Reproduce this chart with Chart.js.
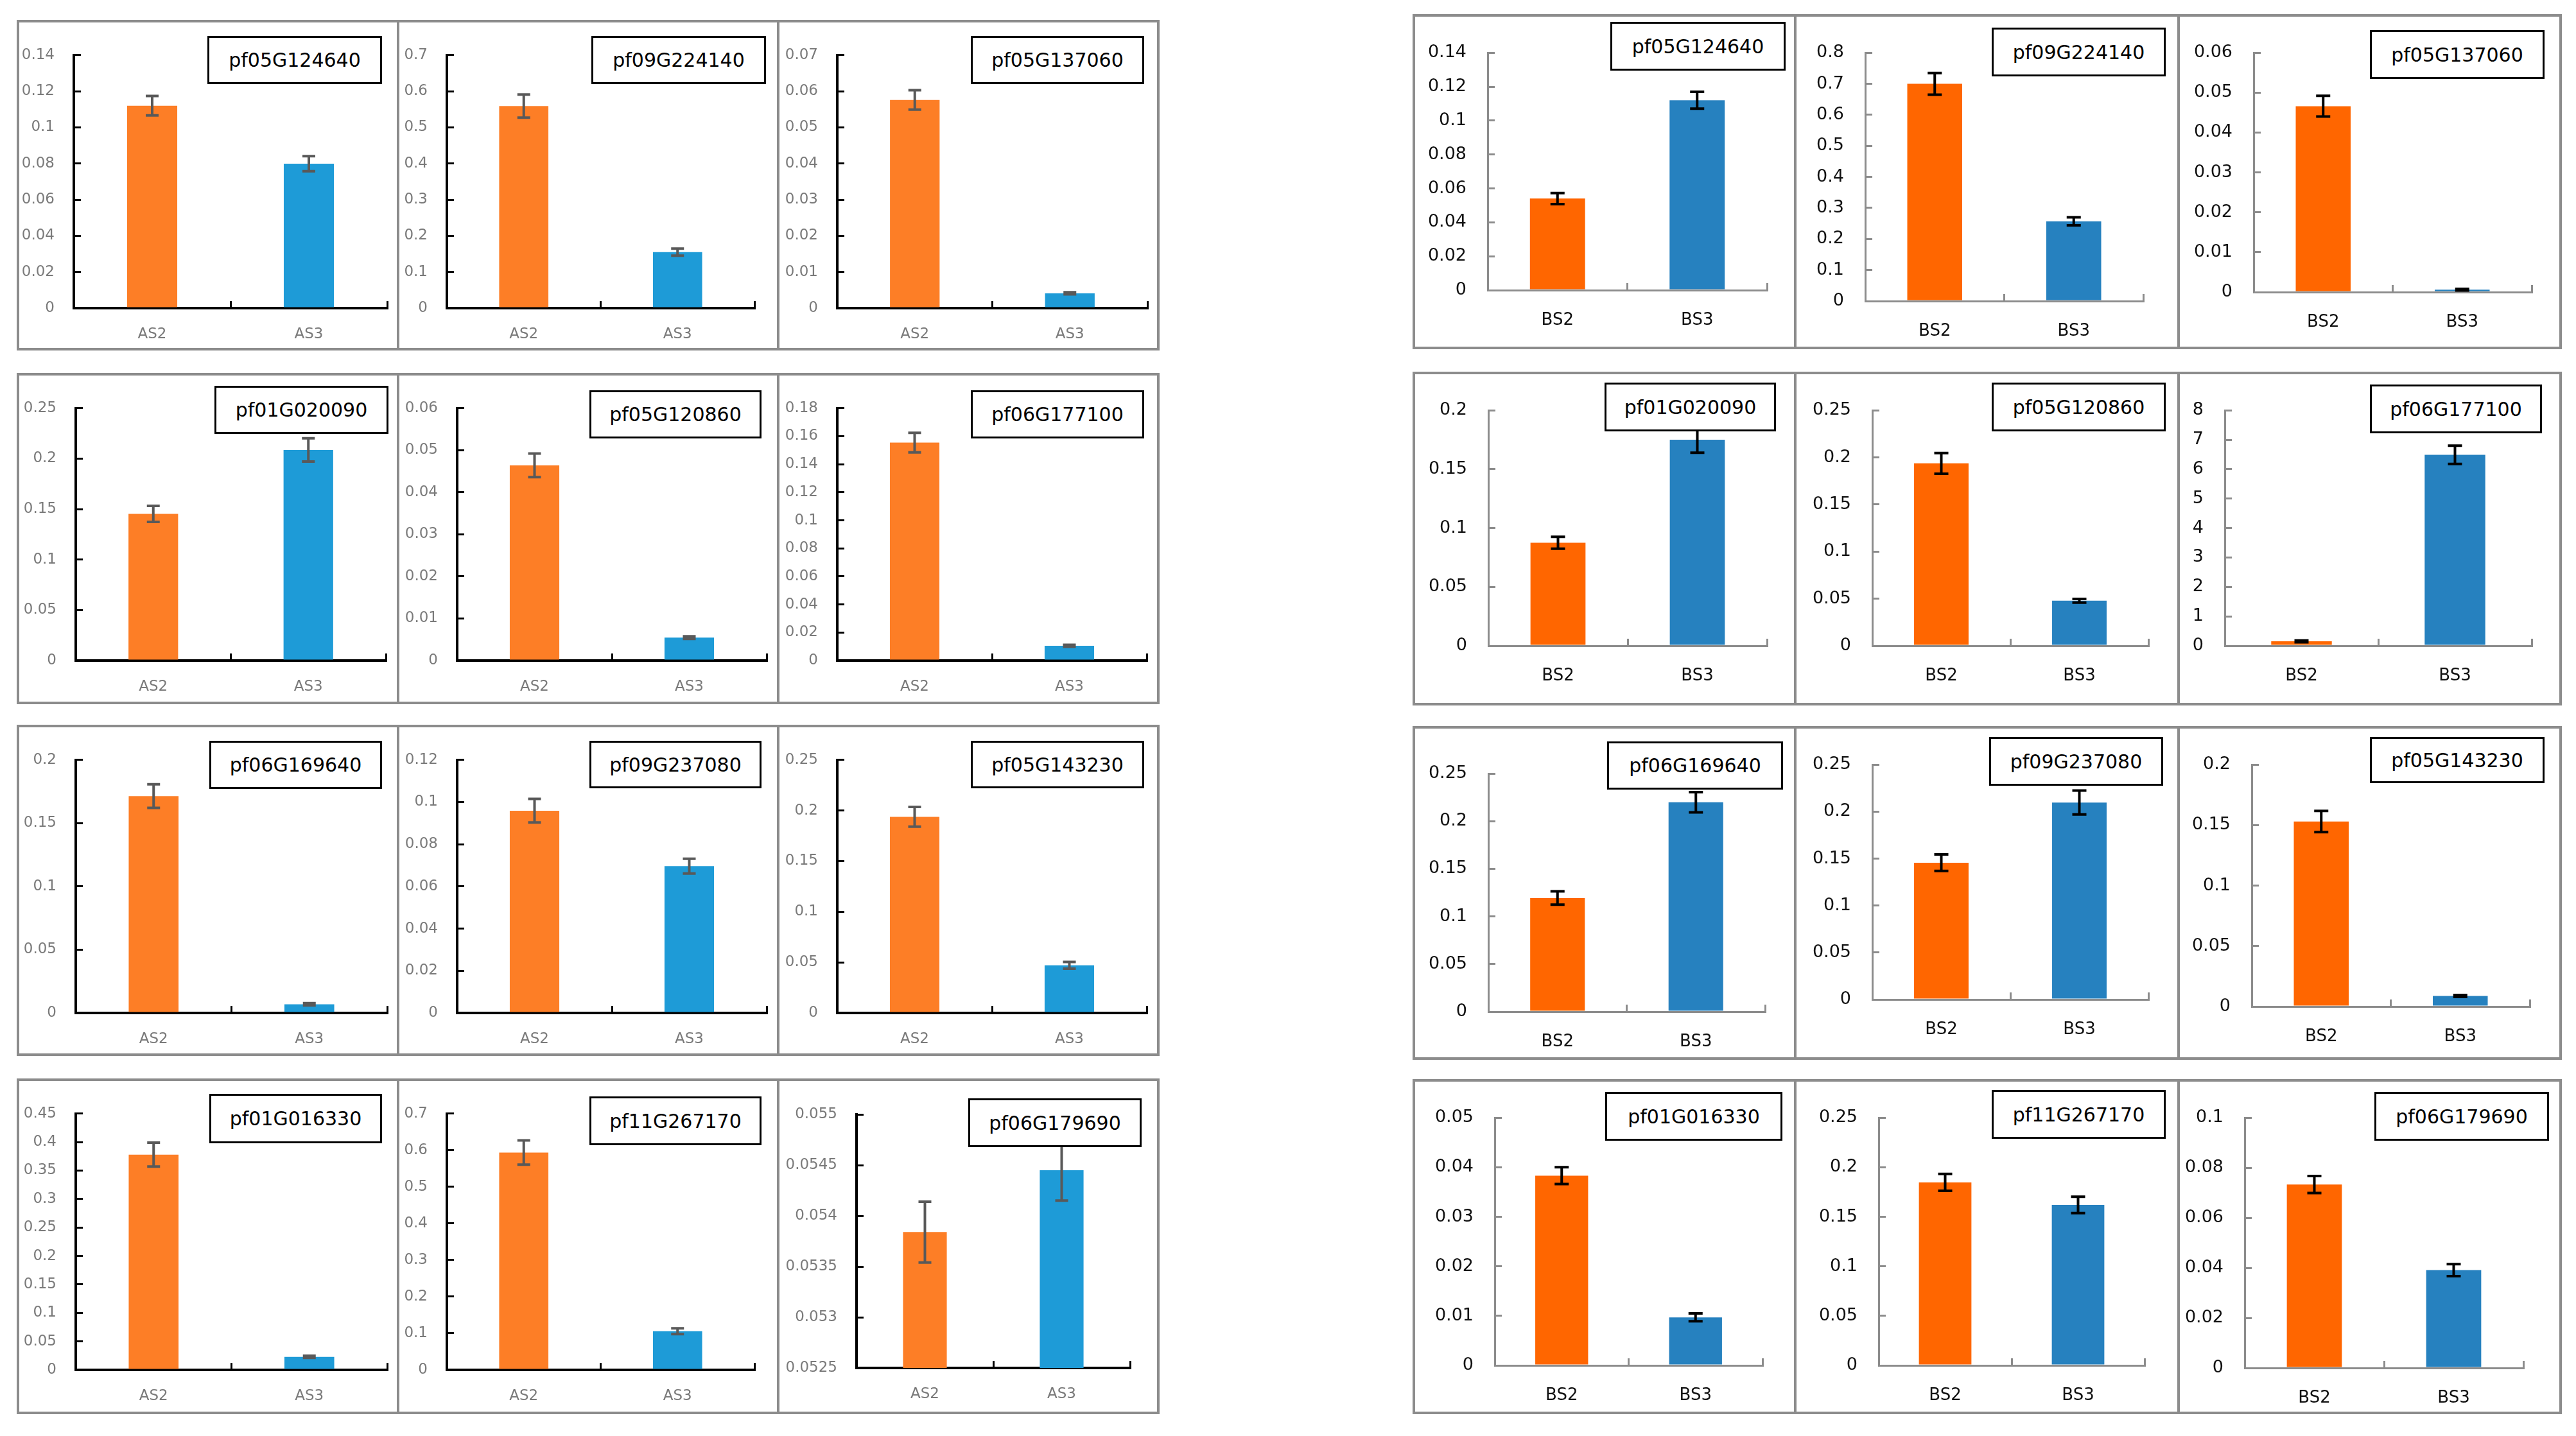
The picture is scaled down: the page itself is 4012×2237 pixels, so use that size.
<!DOCTYPE html>
<html><head><meta charset="utf-8">
<script src="https://cdn.jsdelivr.net/npm/chart.js@4.4.1/dist/chart.umd.min.js"></script>
<style>
html,body{margin:0;padding:0;background:#fff;width:4012px;height:2237px;overflow:hidden;}
#root{position:relative;width:4012px;height:2237px;background:#fff;}
.panel{position:absolute;}
.panel canvas{position:absolute;left:0;top:0;}
.frame{position:absolute;left:0;top:0;right:0;bottom:0;border:4px solid #8c8c8c;box-sizing:border-box;pointer-events:none;}
.tag{position:absolute;background:#fff;border:3px solid #000;box-sizing:border-box;display:flex;align-items:center;justify-content:center;font-family:"DejaVu Sans",Verdana,sans-serif;font-size:30px;color:#000;white-space:nowrap;}
</style></head><body><div id="root"></div>
<script>
// ---------------- data ----------------
const genes = ['pf05G124640','pf09G224140','pf05G137060','pf01G020090','pf05G120860','pf06G177100',
               'pf06G169640','pf09G237080','pf05G143230','pf01G016330','pf11G267170','pf06G179690'];
const leftCategories = ['AS2','AS3'];
const rightCategories = ['BS2','BS3'];

const as2Values = [0.112, 0.559, 0.0576, 0.1453, 0.0464, 0.1554, 0.1714, 0.0959, 0.1938, 0.378, 0.5937, 0.05384];
const as2Errors = [0.0054, 0.032, 0.0027, 0.0079, 0.0028, 0.007, 0.0093, 0.0056, 0.0097, 0.021, 0.033, 0.0003];
const as3Values = [0.0799, 0.1548, 0.0041, 0.2086, 0.00545, 0.01055, 0.0068, 0.0696, 0.0471, 0.0229, 0.1056, 0.05445];
const as3Errors = [0.0042, 0.0098, 0.0003, 0.0115, 0.0003, 0.0007, 0.0009, 0.0035, 0.0033, 0.0018, 0.008, 0.0003];
const leftAxisMin  = [0, 0, 0, 0, 0, 0, 0, 0, 0, 0, 0, 0.0525];
const leftAxisMax  = [0.14, 0.7, 0.07, 0.25, 0.06, 0.18, 0.2, 0.12, 0.25, 0.45, 0.7, 0.055];
const leftAxisStep = [0.02, 0.1, 0.01, 0.05, 0.01, 0.02, 0.05, 0.02, 0.05, 0.05, 0.1, 0.0005];

const bs2Values = [0.054, 0.70, 0.0466, 0.0875, 0.1937, 0.15, 0.1193, 0.1456, 0.153, 0.0383, 0.1847, 0.0733];
const bs2Errors = [0.0033, 0.035, 0.0026, 0.005, 0.011, 0.03, 0.007, 0.0088, 0.0088, 0.0017, 0.0085, 0.0034];
const bs3Values = [0.112, 0.257, 0.0006, 0.175, 0.0478, 6.49, 0.2199, 0.2097, 0.0087, 0.0097, 0.162, 0.0391];
const bs3Errors = [0.005, 0.013, 0.0002, 0.011, 0.002, 0.31, 0.0106, 0.0127, 0.0008, 0.0008, 0.0083, 0.0024];
const rightAxisMin  = [0, 0, 0, 0, 0, 0, 0, 0, 0, 0, 0, 0];
const rightAxisMax  = [0.14, 0.8, 0.06, 0.2, 0.25, 8, 0.25, 0.25, 0.2, 0.05, 0.25, 0.1];
const rightAxisStep = [0.02, 0.1, 0.01, 0.05, 0.05, 1, 0.05, 0.05, 0.05, 0.01, 0.05, 0.02];

// ---------------- layout (pixels / fractions of each panel) ----------------
const leftCols = [26, 618, 1210, 1802];
const leftRows = [[31, 546], [581, 1097], [1129, 1645], [1680, 2203]];
const rightCols = [2200, 2794, 3391, 3986];
const rightRows = [[22, 544], [579, 1099], [1131, 1651], [1681, 2203]];
// [axisX, xEnd, top, zero, boxX1, boxX2, boxY1, boxY2]
const leftFrames = [
  [.150,.968,.0345,.871,.498,.955,.048,.193],
  [.131,.935,.0345,.871,.509,.965,.048,.193],
  [.157,.968,.0345,.871,.506,.959,.048,.193],
  [.154,.965,.061,.869,.516,.970,.039,.185],
  [.157,.967,.033,.869,.504,.954,.053,.199],
  [.157,.967,.033,.869,.506,.959,.053,.199],
  [.154,.968,.035,.870,.504,.955,.048,.194],
  [.157,.967,.035,.870,.504,.954,.048,.192],
  [.157,.967,.035,.870,.506,.959,.048,.192],
  [.154,.968,.033,.869,.504,.955,.046,.193],
  [.131,.935,.033,.869,.504,.954,.053,.198],
  [.208,.922,.108,.863,.500,.953,.059,.205]
];
const rightFrames = [
  [.196,.923,.074,.823,.515,.971,.023,.169],
  [.184,.905,.109,.856,.512,.963,.040,.186],
  [.198,.922,.074,.829,.500,.954,.047,.192],
  [.197,.923,.0735,.821,.500,.947,.032,.179],
  [.203,.919,.0735,.821,.512,.963,.032,.179],
  [.124,.922,.0735,.821,.500,.947,.039,.186],
  [.197,.918,.143,.856,.506,.964,.047,.192],
  [.203,.919,.074,.820,.506,.957,.033,.179],
  [.194,.917,.095,.841,.500,.954,.033,.172],
  [.214,.912,.108,.855,.502,.964,.039,.185],
  [.219,.909,.108,.855,.512,.963,.033,.178],
  [.175,.899,.108,.862,.512,.966,.039,.185]
];

const leftStyle = {
  colors: ['#FD7E26', '#1E9BD7'], errColor: '#595959', errWidth: 4, cap: 10,
  axisColor: '#000000', yAxisWidth: 4, xAxisWidth: 4, tickColor: '#000000', tickWidth: 3,
  labelColor: '#7A7A7A', yFont: 23, xFont: 23, yPad: 41, xPad: 38, barPct: 0.32
};
const rightStyle = {
  colors: ['#FF6600', '#2681BF'], errColor: '#000000', errWidth: 4, cap: 11,
  axisColor: '#8C8C8C', yAxisWidth: 3, xAxisWidth: 3, tickColor: '#8C8C8C', tickWidth: 3,
  labelColor: '#111111', yFont: 27, xFont: 26, yPad: 44, xPad: 43, barPct: 0.395
};

const FONT = '"DejaVu Sans", Verdana, sans-serif';

const errorBarPlugin = {
  id: 'errorBars',
  afterDatasetsDraw(chart, args, opts) {
    const ds = chart.data.datasets[0];
    const meta = chart.getDatasetMeta(0);
    const ys = chart.scales.y;
    const ctx = chart.ctx;
    ctx.save();
    ctx.strokeStyle = opts.color;
    ctx.lineWidth = opts.width;
    ctx.lineCap = 'butt';
    meta.data.forEach((bar, k) => {
      const v = ds.data[k], e = ds.errors[k];
      const x = bar.x;
      const yt = ys.getPixelForValue(v + e), yb = ys.getPixelForValue(v - e);
      ctx.beginPath();
      ctx.moveTo(x, yt); ctx.lineTo(x, yb);
      ctx.moveTo(x - opts.cap, yt); ctx.lineTo(x + opts.cap, yt);
      ctx.moveTo(x - opts.cap, yb); ctx.lineTo(x + opts.cap, yb);
      ctx.stroke();
    });
    ctx.restore();
  }
};

function fmt(v) { return String(+Number(v).toFixed(6)); }

function makePanel(x0, x1, y0, y1, frame, cats, vals, errs, yMin, yMax, yStep, name, st) {
  const root = document.getElementById('root');
  const pw = x1 - x0 + 4, ph = y1 - y0;
  const div = document.createElement('div');
  div.className = 'panel';
  div.style.left = x0 + 'px'; div.style.top = y0 + 'px';
  div.style.width = pw + 'px'; div.style.height = ph + 'px';
  const cv = document.createElement('canvas');
  cv.width = pw; cv.height = ph;
  cv.style.width = pw + 'px'; cv.style.height = ph + 'px';
  div.appendChild(cv);
  const fr = document.createElement('div'); fr.className = 'frame'; div.appendChild(fr);
  const [ax, xe, tp, zr, bx1, bx2, by1, by2] = frame;
  const axisPx = Math.round(ax * pw), zeroPx = Math.round(zr * ph);
  const tag = document.createElement('div');
  tag.className = 'tag';
  tag.textContent = name;
  tag.style.left = Math.round(bx1 * pw) + 'px';
  tag.style.top = Math.round(by1 * ph) + 'px';
  tag.style.width = Math.round((bx2 - bx1) * pw) + 'px';
  tag.style.height = Math.round((by2 - by1) * ph) + 'px';
  div.appendChild(tag);
  root.appendChild(div);

  new Chart(cv.getContext('2d'), {
    type: 'bar',
    data: {
      labels: cats,
      datasets: [{ data: vals, errors: errs, backgroundColor: st.colors, borderWidth: 0,
                   barPercentage: st.barPct, categoryPercentage: 1.0 }]
    },
    options: {
      responsive: false, animation: false, devicePixelRatio: 1,
      layout: { padding: { left: 0, top: Math.round(tp * ph), right: Math.round(pw - xe * pw), bottom: 0 } },
      plugins: { legend: { display: false }, tooltip: { enabled: false },
                 errorBars: { color: st.errColor, width: st.errWidth, cap: st.cap } },
      scales: {
        x: {
          type: 'category',
          grid: { display: true, drawOnChartArea: false, drawTicks: true, tickLength: -11, color: st.tickColor, offset: true, lineWidth: st.tickWidth },
          border: { display: true, color: st.axisColor, width: st.xAxisWidth },
          ticks: { color: st.labelColor, font: { family: FONT, size: st.xFont }, padding: st.xPad, maxRotation: 0, autoSkip: false },
          afterFit(s) { s.height = ph - zeroPx; }
        },
        y: {
          min: yMin, max: yMax,
          grid: { display: true, drawOnChartArea: false, drawTicks: true, tickLength: -11, color: st.tickColor, lineWidth: st.tickWidth },
          border: { display: true, color: st.axisColor, width: st.yAxisWidth },
          ticks: { stepSize: yStep, autoSkip: false, color: st.labelColor, font: { family: FONT, size: st.yFont },
                   padding: st.yPad, callback: (v) => fmt(v) },
          afterFit(s) { s.width = axisPx; }
        }
      }
    },
    plugins: [errorBarPlugin]
  });
}

for (let i = 0; i < 12; i++) {
  const r = Math.floor(i / 3), c = i % 3;
  makePanel(leftCols[c], leftCols[c + 1], leftRows[r][0], leftRows[r][1], leftFrames[i], leftCategories,
            [as2Values[i], as3Values[i]], [as2Errors[i], as3Errors[i]],
            leftAxisMin[i], leftAxisMax[i], leftAxisStep[i], genes[i], leftStyle);
  makePanel(rightCols[c], rightCols[c + 1], rightRows[r][0], rightRows[r][1], rightFrames[i], rightCategories,
            [bs2Values[i], bs3Values[i]], [bs2Errors[i], bs3Errors[i]],
            rightAxisMin[i], rightAxisMax[i], rightAxisStep[i], genes[i], rightStyle);
}
</script></body></html>
